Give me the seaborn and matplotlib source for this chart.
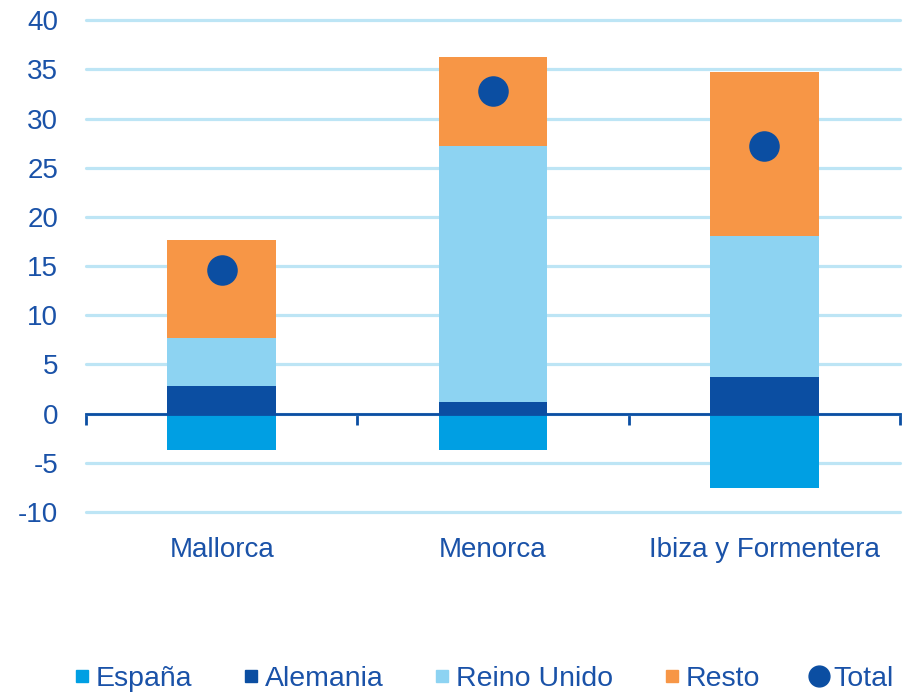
import numpy as np
import pandas as pd
import matplotlib
matplotlib.use("Agg")
import matplotlib.pyplot as plt
import matplotlib.transforms as mtransforms
from matplotlib.lines import Line2D
import seaborn as sns

# datos
islas = ["Mallorca", "Menorca", "Ibiza y Formentera"]
espana = [-3.7, -3.7, -7.6]
alemania = [2.8, 1.2, 3.7]
reino_unido = [4.9, 26.0, 14.4]
resto = [10.0, 9.1, 16.6]
total = [14.6, 32.8, 27.2]

series = ["España", "Alemania", "Reino Unido", "Resto"]
colores = {"España": "#009FE3", "Alemania": "#0B4EA2",
           "Reino Unido": "#8DD3F2", "Resto": "#F79646", "Total": "#0B4EA2"}
azul_txt = "#1A52A8"

sns.set_theme(style="white")
plt.rcParams["font.family"] = ["Liberation Sans", "DejaVu Sans"]
plt.rcParams["axes.unicode_minus"] = False

fig = plt.figure(figsize=(9.09, 6.97), dpi=100)
ax = fig.add_axes([0.0946, 0.2655, 0.8954, 0.7055])

# apilado: barras acumuladas dibujadas de mayor a menor
ac1 = np.array(alemania)
ac2 = ac1 + np.array(reino_unido)
ac3 = ac2 + np.array(resto)
capas = [("Resto", ac3), ("Reino Unido", ac2), ("Alemania", ac1), ("España", np.array(espana))]
for nombre, vals in capas:
    df = pd.DataFrame({"isla": islas, "valor": vals})
    sns.barplot(data=df, x="isla", y="valor", color=colores[nombre], width=0.4,
                saturation=1, linewidth=0, ax=ax, zorder=2)

df_tot = pd.DataFrame({"isla": islas, "valor": total})
sns.stripplot(data=df_tot, x="isla", y="valor", jitter=False, size=22,
              color=colores["Total"], linewidth=0, ax=ax, zorder=4)

ax.set_xlim(-0.5, 2.5)
ax.set_ylim(-10, 40)
ax.set_yticks(range(-10, 41, 5))
ax.set_xlabel("")
ax.set_ylabel("")

ax.set_axisbelow(True)
ax.yaxis.grid(True, color="#BDE5F5", linewidth=2.3)
for gl in ax.yaxis.get_gridlines():
    gl.set_clip_on(False)
ax.xaxis.grid(False)
for s in ["top", "right", "left"]:
    ax.spines[s].set_visible(False)
ax.spines["bottom"].set_position(("data", 0))
ax.spines["bottom"].set_color("#0B4EA2")
ax.spines["bottom"].set_linewidth(2)
ax.spines["bottom"].set_zorder(3)

ax.set_xticks([0, 1, 2])
ax.set_xticklabels([])
ax.set_xticks([-0.5, 0.5, 1.5, 2.5], minor=True)
ax.tick_params(axis="x", which="major", length=0)
ax.tick_params(axis="x", which="minor", length=8, width=2, color="#0B4EA2",
               direction="out", bottom=True)
ax.tick_params(axis="y", length=0, pad=20, labelsize=20, labelcolor=azul_txt)

trans = mtransforms.blended_transform_factory(ax.transData, ax.transAxes)
for i, isla in enumerate(islas):
    ax.text(i, -0.078, isla, transform=trans, ha="center", va="center",
            fontsize=20, color=azul_txt)

handles = [Line2D([], [], marker="s", linestyle="", markersize=8.5,
                  color=colores[n]) for n in series]
handles.append(Line2D([], [], marker="o", linestyle="", markersize=15,
                      color=colores["Total"]))
leg = fig.legend(handles, series + ["Total"], loc="center", ncol=5,
                 bbox_to_anchor=(0.53, 0.026), frameon=False, fontsize=20.5,
                 handletextpad=0.1, columnspacing=1.65, handlelength=0.8)
for t in leg.get_texts():
    t.set_color(azul_txt)

fig.savefig("out.png", dpi=100)
